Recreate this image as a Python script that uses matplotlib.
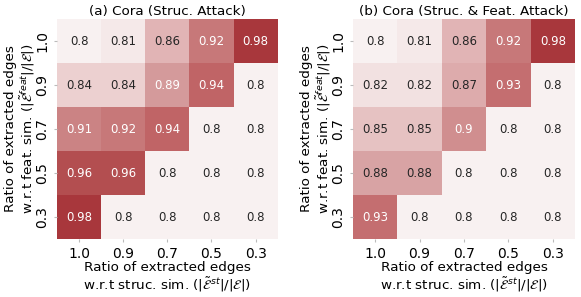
import numpy as np
import matplotlib
matplotlib.use("Agg")
import matplotlib.pyplot as plt
import seaborn as sns
from matplotlib.colors import LinearSegmentedColormap

x_labels = ["1.0", "0.9", "0.7", "0.5", "0.3"]
y_labels = ["1.0", "0.9", "0.7", "0.5", "0.3"]

struc_attack = [
    [0.80, 0.81, 0.86, 0.92, 0.98],
    [0.84, 0.84, 0.89, 0.94, 0.80],
    [0.91, 0.92, 0.94, 0.80, 0.80],
    [0.96, 0.96, 0.80, 0.80, 0.80],
    [0.98, 0.80, 0.80, 0.80, 0.80],
]
struc_feat_attack = [
    [0.80, 0.81, 0.86, 0.92, 0.98],
    [0.82, 0.82, 0.87, 0.93, 0.80],
    [0.85, 0.85, 0.90, 0.80, 0.80],
    [0.88, 0.88, 0.80, 0.80, 0.80],
    [0.93, 0.80, 0.80, 0.80, 0.80],
]
titles = ["(a) Cora (Struc. Attack)", "(b) Cora (Struc. & Feat. Attack)"]

anchors = [(0.0, (248, 241, 241)), (0.222, (236, 208, 208)), (0.333, (225, 180, 181)),
           (0.5, (212, 154, 155)), (0.667, (199, 120, 121)), (0.778, (192, 100, 102)),
           (0.889, (179, 78, 80)), (1.0, (168, 55, 60))]
cmap = LinearSegmentedColormap.from_list(
    "reds", [(p, tuple(c / 255 for c in rgb)) for p, rgb in anchors])

fig = plt.figure(figsize=(5.81, 2.97), dpi=100)
positions = [[0.098, 0.195, 0.380, 0.741], [0.6076, 0.195, 0.382, 0.741]]

xlabel = "Ratio of extracted edges\nw.r.t struc. sim. ($|\\tilde{\\mathcal{E}}^{st}|/|\\mathcal{E}|$)"
ylabel = "Ratio of extracted edges\nw.r.t feat. sim. ($|\\tilde{\\mathcal{E}}^{feat}|/|\\mathcal{E}|$)"

for pos, data, title in zip(positions, [struc_attack, struc_feat_attack], titles):
    ax = fig.add_axes(pos)
    sns.heatmap(np.array(data), ax=ax, cmap=cmap, vmin=0.8, vmax=0.98, cbar=False,
                annot=True, fmt="g", annot_kws={"fontsize": 8.5},
                xticklabels=x_labels, yticklabels=y_labels)
    ax.set_title(title, fontsize=9.7, pad=3)
    ax.set_xlabel(xlabel, fontsize=9.7, labelpad=0, linespacing=1.1)
    ax.set_ylabel(ylabel, fontsize=9.7, labelpad=-1, linespacing=1.1)
    ax.tick_params(axis="both", labelsize=10, length=2, color="#bbbbbb")
    ax.set_yticklabels(y_labels, rotation=90, va="center")
    ax.set_xticklabels(x_labels, rotation=0)

fig.savefig("out.png", dpi=100)
